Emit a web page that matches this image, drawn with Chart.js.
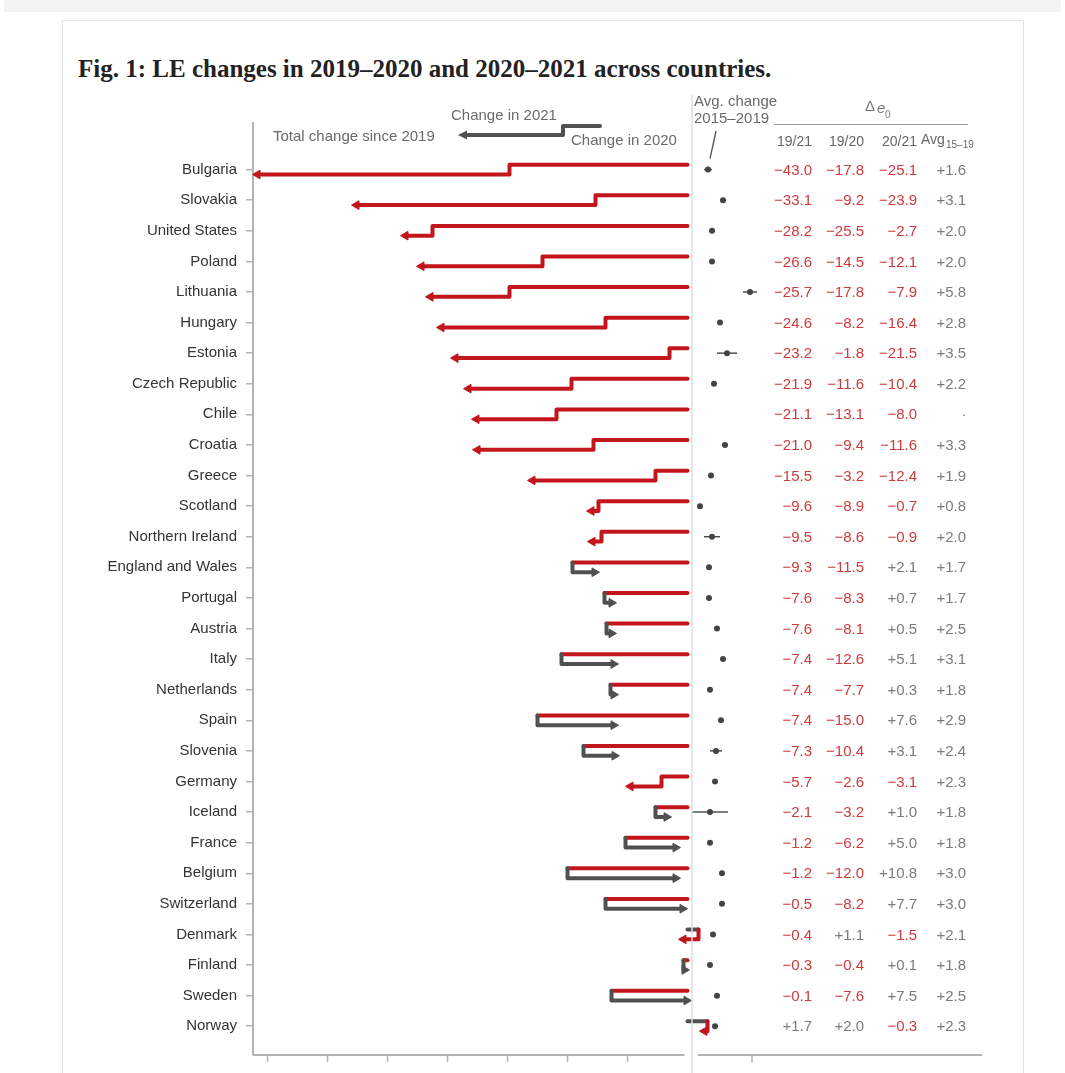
<!DOCTYPE html>
<html lang="en">
<head>
<meta charset="UTF-8">
<title>Fig. 1: LE changes in 2019–2020 and 2020–2021 across countries.</title>
<script src="https://cdn.jsdelivr.net/npm/chart.js@4"></script>
<style>
  * { box-sizing: border-box; margin: 0; padding: 0; }
  html, body { width: 1065px; height: 1073px; background: #fff; overflow: hidden; }
  .topbar { position: absolute; left: 4px; top: 0; width: 1057px; height: 12px; background: #f3f3f3; }
  .card { position: absolute; left: 62px; top: 20px; width: 962px; height: 1100px; border: 1px solid #e2e2e2; }
  h1 { position: absolute; left: 78px; top: 55px; font: bold 25px "Liberation Serif", serif; color: #222; white-space: nowrap; }
  #chart { position: absolute; left: 0; top: 0; }
</style>
</head>
<body>
<div class="topbar"></div>
<div class="card"></div>
<h1>Fig. 1: LE changes in 2019–2020 and 2020–2021 across countries.</h1>
<canvas id="chart" width="1065" height="1073"></canvas>

<script>
  // ─── data (months of life expectancy) ─────────────────────────────────────
  const countries = [
    'Bulgaria', 'Slovakia', 'United States', 'Poland', 'Lithuania', 'Hungary',
    'Estonia', 'Czech Republic', 'Chile', 'Croatia', 'Greece', 'Scotland',
    'Northern Ireland', 'England and Wales', 'Portugal', 'Austria', 'Italy',
    'Netherlands', 'Spain', 'Slovenia', 'Germany', 'Iceland', 'France',
    'Belgium', 'Switzerland', 'Denmark', 'Finland', 'Sweden', 'Norway'
  ];
  const change1921 = [-43.0, -33.1, -28.2, -26.6, -25.7, -24.6, -23.2, -21.9, -21.1, -21.0, -15.5, -9.6,
                      -9.5, -9.3, -7.6, -7.6, -7.4, -7.4, -7.4, -7.3, -5.7, -2.1, -1.2, -1.2, -0.5, -0.4, -0.3, -0.1, 1.7];
  const change1920 = [-17.8, -9.2, -25.5, -14.5, -17.8, -8.2, -1.8, -11.6, -13.1, -9.4, -3.2, -8.9,
                      -8.6, -11.5, -8.3, -8.1, -12.6, -7.7, -15.0, -10.4, -2.6, -3.2, -6.2, -12.0, -8.2, 1.1, -0.4, -7.6, 2.0];
  const change2021 = [-25.1, -23.9, -2.7, -12.1, -7.9, -16.4, -21.5, -10.4, -8.0, -11.6, -12.4, -0.7,
                      -0.9, 2.1, 0.7, 0.5, 5.1, 0.3, 7.6, 3.1, -3.1, 1.0, 5.0, 10.8, 7.7, -1.5, 0.1, 7.5, -0.3];
  const avg1519    = [1.6, 3.1, 2.0, 2.0, 5.8, 2.8, 3.5, 2.2, null, 3.3, 1.9, 0.8,
                      2.0, 1.7, 1.7, 2.5, 3.1, 1.8, 2.9, 2.4, 2.3, 1.8, 1.8, 3.0, 3.0, 2.1, 1.8, 2.5, 2.3];
  // half-width of the interval drawn around the 2015–2019 average
  const avgErr     = [0.4, 0.3, 0, 0, 0.7, 0, 1.0, 0, null, 0.3, 0, 0,
                      0.8, 0, 0, 0, 0, 0, 0, 0.6, 0, 1.8, 0, 0, 0, 0, 0, 0, 0];
  const mainTicks  = [-42, -36, -30, -24, -18, -12, -6];
  const avgTicks   = [6];

  // ─── styles ───────────────────────────────────────────────────────────────
  const RED   = '#c3161c';
  const GREY  = '#505050';
  const TXT_RED  = '#cf3a3c';
  const TXT_GREY = '#7b7b7b';
  const AXIS  = '#b3b3b3';
  const SANS  = '"Liberation Sans", Arial, sans-serif';
  const OFF   = 0.16;   // vertical offset of the 2020 / 2021 segments within a row

  const colorOf = v => v < 0 ? RED : GREY;
  const fmt = v => v == null ? '.' : (v < 0 ? '\u2212' : '+') + Math.abs(v).toFixed(1);

  // one path per country: 0 → 2020 change, step, → total change since 2019
  const arrowSets = countries.map((name, i) => {
    const c20 = colorOf(change1920[i]);
    const c21 = colorOf(change2021[i]);
    return {
      label: name,
      showLine: true,
      data: [
        { x: 0,             y: i - OFF },
        { x: change1920[i], y: i - OFF },
        { x: change1920[i], y: i + OFF },
        { x: change1921[i], y: i + OFF },
      ],
      xAxisID: 'x',
      borderWidth: 4,
      borderColor: c21,
      borderCapStyle: 'round',
      borderJoinStyle: 'round',
      segment: { borderColor: ctx => ctx.p0DataIndex === 0 ? c20 : c21 },
      pointStyle: 'triangle',
      pointRadius: ctx => ctx.dataIndex === 3 ? 5 : 0,
      pointRotation: change1921[i] < change1920[i] ? -90 : 90,
      pointBackgroundColor: c21,
      pointBorderColor: c21,
      pointBorderWidth: 1,
      clip: false,
    };
  });

  const avgPoints = [];
  const errPoints = [];
  countries.forEach((_, i) => {
    if (avg1519[i] == null) return;
    avgPoints.push({ x: avg1519[i], y: i });
    if (avgErr[i] > 0) {
      errPoints.push({ x: avg1519[i] - avgErr[i], y: i });
      errPoints.push({ x: avg1519[i] + avgErr[i], y: i });
    }
  });

  // ─── decorations: axes segments, legend, table ────────────────────────────
  const decor = {
    id: 'decor',
    afterDraw(chart) {
      const { ctx, chartArea } = chart;
      const x = chart.scales.x, xd = chart.scales.xd, y = chart.scales.y;
      const bottom = chartArea.bottom;
      ctx.save();

      // separator / zero line of the average panel
      ctx.strokeStyle = '#dedede';
      ctx.lineWidth = 1.5;
      ctx.beginPath();
      ctx.moveTo(xd.getPixelForValue(0), 95);
      ctx.lineTo(xd.getPixelForValue(0), 1073);
      ctx.stroke();

      // bottom axes
      ctx.strokeStyle = AXIS;
      ctx.lineWidth = 2;
      ctx.beginPath();
      ctx.moveTo(chartArea.left, bottom);
      ctx.lineTo(x.getPixelForValue(-0.3), bottom);
      ctx.moveTo(xd.getPixelForValue(0.6), bottom);
      ctx.lineTo(xd.getPixelForValue(29.0), bottom);
      ctx.stroke();
      ctx.lineWidth = 1.5;
      ctx.beginPath();
      mainTicks.forEach(t => {
        const px = x.getPixelForValue(t);
        ctx.moveTo(px, bottom); ctx.lineTo(px, bottom + 7);
      });
      avgTicks.forEach(t => {
        const px = xd.getPixelForValue(t);
        ctx.moveTo(px, bottom); ctx.lineTo(px, bottom + 7);
      });
      ctx.stroke();

      // legend arrow
      ctx.strokeStyle = GREY;
      ctx.fillStyle = GREY;
      ctx.lineWidth = 4;
      ctx.lineJoin = 'round';
      ctx.lineCap = 'round';
      ctx.beginPath();
      ctx.moveTo(600, 126);
      ctx.lineTo(563, 126);
      ctx.lineTo(563, 135);
      ctx.lineTo(466, 135);
      ctx.stroke();
      ctx.beginPath();
      ctx.moveTo(458, 135);
      ctx.lineTo(467, 130.5);
      ctx.lineTo(467, 139.5);
      ctx.closePath();
      ctx.fill();

      ctx.font = '15px ' + SANS;
      ctx.fillStyle = '#6a6a6a';
      ctx.textBaseline = 'middle';
      ctx.textAlign = 'left';
      ctx.fillText('Change in 2021', 451, 116);
      ctx.fillText('Total change since 2019', 273, 137);
      ctx.fillText('Change in 2020', 571, 141);

      // average panel label + pointer
      ctx.fillText('Avg. change', 694, 102);
      ctx.fillText('2015\u20132019', 694, 119);
      ctx.strokeStyle = GREY;
      ctx.lineWidth = 1.3;
      ctx.lineCap = 'butt';
      ctx.beginPath();
      ctx.moveTo(716, 131);
      ctx.lineTo(710, y.getPixelForValue(0) - 11);
      ctx.stroke();

      // table header
      ctx.strokeStyle = '#9a9a9a';
      ctx.lineWidth = 1;
      ctx.beginPath();
      ctx.moveTo(774, 124.5);
      ctx.lineTo(968, 124.5);
      ctx.stroke();
      ctx.fillStyle = '#777';
      ctx.font = '15px ' + SANS;
      ctx.fillText('\u0394', 865, 107);
      ctx.font = 'italic 15px ' + SANS;
      ctx.fillText('e', 877, 109);
      ctx.font = '10px ' + SANS;
      ctx.fillText('0', 885, 115);

      const colRight = [812, 864, 917, 966];
      ctx.font = '14px ' + SANS;
      ctx.fillStyle = '#666';
      ctx.textAlign = 'right';
      ctx.fillText('19/21', colRight[0], 142);
      ctx.fillText('19/20', colRight[1], 142);
      ctx.fillText('20/21', colRight[2], 142);
      ctx.textAlign = 'left';
      ctx.fillText('Avg', 921, 140);
      ctx.font = '10px ' + SANS;
      ctx.fillText('15\u201319', 946, 145);

      // table body
      ctx.font = '15px ' + SANS;
      ctx.textAlign = 'right';
      countries.forEach((_, i) => {
        const py = y.getPixelForValue(i) + 1;
        [change1921[i], change1920[i], change2021[i]].forEach((v, c) => {
          ctx.fillStyle = v < 0 ? TXT_RED : TXT_GREY;
          ctx.fillText(fmt(v), colRight[c], py);
        });
        ctx.fillStyle = TXT_GREY;
        ctx.fillText(avg1519[i] == null ? '.' : fmt(avg1519[i]), colRight[3], avg1519[i] == null ? py - 3 : py);
      });

      ctx.restore();
    }
  };

  new Chart(document.getElementById('chart'), {
    type: 'scatter',
    data: {
      datasets: [
        ...arrowSets,
        {
          label: 'Avg. change 2015–2019',
          data: avgPoints,
          xAxisID: 'xd',
          pointRadius: 3,
          pointBackgroundColor: '#444',
          pointBorderWidth: 0,
        },
        {
          label: 'interval',
          data: errPoints,
          xAxisID: 'xd',
          showLine: true,
          pointRadius: 0,
          borderWidth: 1.5,
          borderColor: GREY,
          segment: { borderColor: ctx => ctx.p0DataIndex % 2 === 0 ? GREY : 'rgba(0,0,0,0)' },
        },
      ]
    },
    options: {
      responsive: false,
      animation: false,
      events: [],
      layout: { padding: { top: 123, bottom: 10, left: 0, right: 80 } },
      plugins: { legend: { display: false }, tooltip: { enabled: false } },
      scales: {
        x:  { type: 'linear', min: -43.45, max: 29.75, display: false },
        xd: { type: 'linear', min: -43.9, max: 29.3, display: false },
        y: {
          type: 'linear',
          reverse: true,
          min: -1.523,
          max: 28.94,
          afterFit: s => { s.width = 253; },
          afterBuildTicks: s => { s.ticks = countries.map((_, i) => ({ value: i })); },
          ticks: {
            autoSkip: false,
            padding: 9,
            color: '#333',
            font: { family: SANS, size: 15 },
            callback: v => countries[v],
          },
          grid: { drawOnChartArea: false, drawTicks: true, tickLength: 7, color: AXIS, lineWidth: 1.5 },
          border: { display: true, color: AXIS, width: 2 },
        }
      }
    },
    plugins: [decor]
  });
</script>
</body>
</html>
